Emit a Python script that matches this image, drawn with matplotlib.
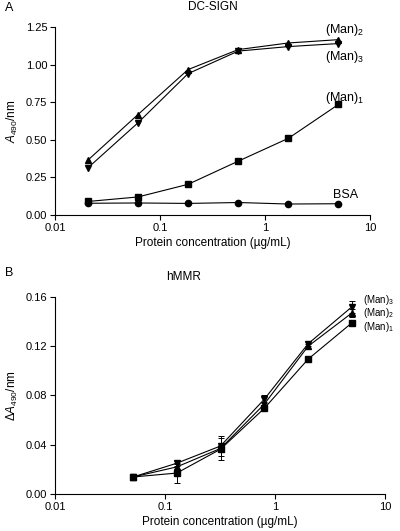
import matplotlib
matplotlib.use("Agg")
import matplotlib.pyplot as plt
from matplotlib.ticker import NullLocator

plt.rcParams['font.family'] = ['Liberation Sans', 'DejaVu Sans']
plt.rcParams['mathtext.fontset'] = 'custom'
plt.rcParams['mathtext.rm'] = 'Liberation Sans'
plt.rcParams['mathtext.it'] = 'Liberation Sans:italic'

# panel A: DC-SIGN
conc_a = [0.0206, 0.0617, 0.185, 0.556, 1.67, 5.0]
man1_a = [0.090, 0.120, 0.204, 0.358, 0.510, 0.735]
man2_a = [0.365, 0.668, 0.967, 1.100, 1.144, 1.166]
man3_a = [0.314, 0.613, 0.940, 1.090, 1.120, 1.140]
bsa_a = [0.078, 0.080, 0.077, 0.083, 0.073, 0.075]

# panel B: hMMR
conc_b = [0.0512, 0.128, 0.32, 0.8, 2.0, 5.0]
man1_b = [0.0138, 0.0170, 0.0364, 0.0696, 0.1095, 0.1390]
man2_b = [0.0138, 0.0220, 0.0370, 0.0730, 0.1200, 0.1470]
man3_b = [0.0138, 0.0250, 0.0390, 0.0770, 0.1220, 0.1520]
err1_b = [0.001, 0.008, 0.009, 0.001, 0.001, 0.002]
err2_b = [0.001, 0.002, 0.003, 0.002, 0.002, 0.003]
err3_b = [0.001, 0.002, 0.008, 0.003, 0.002, 0.005]

xt = [0.01, 0.1, 1, 10]
xtl = ['0.01', '0.1', '1', '10']

fig = plt.figure(figsize=(4.0, 5.31), dpi=100)


def style(ax):
    ax.set_xscale('log')
    ax.set_xlim(0.01, 10)
    ax.set_xticks(xt)
    ax.set_xticklabels(xtl)
    ax.xaxis.set_minor_locator(NullLocator())
    for s in ['top', 'right']:
        ax.spines[s].set_visible(False)
    for s in ['left', 'bottom']:
        ax.spines[s].set_linewidth(0.8)
    ax.tick_params(direction='out', length=3.5, width=0.8, labelsize=8, pad=2)
    ax.set_xlabel('Protein concentration (\u00b5g/mL)', fontsize=8.5, labelpad=3)


kw = dict(color='black', lw=0.8, ms=4.5)

axA = fig.add_axes([0.1375, 0.5951, 0.7875, 0.354])
axA.plot(conc_a, man2_a, marker='^', **kw)
axA.plot(conc_a, man3_a, marker='v', **kw)
axA.plot(conc_a, man1_a, marker='s', **kw)
axA.plot(conc_a, bsa_a, marker='o', **kw)
style(axA)
axA.set_ylim(0, 1.25)
axA.set_yticks([0, 0.25, 0.5, 0.75, 1.0, 1.25])
axA.set_yticklabels(['0.00', '0.25', '0.50', '0.75', '1.00', '1.25'])
axA.set_ylabel(r'$\mathit{A}_{490}$/nm', fontsize=8.5, labelpad=4)
axA.set_title('DC-SIGN', fontsize=8.5, pad=12)
tk = dict(transform=axA.transAxes, fontsize=9, va='center', ha='left')
axA.text(0.857, 0.984, r'(Man)$_2$', **tk)
axA.text(0.857, 0.84, r'(Man)$_3$', **tk)
axA.text(0.857, 0.622, r'(Man)$_1$', **tk)
axA.text(0.883, 0.106, 'BSA', **tk)
fig.text(0.012, 0.985, 'A', fontsize=9, va='center')

axB = fig.add_axes([0.1375, 0.0697, 0.825, 0.371])
ekw = dict(color='black', lw=0.8, ms=4.5, capsize=2.5, elinewidth=0.7, capthick=0.7)
axB.errorbar(conc_b, man1_b, yerr=err1_b, marker='s', **ekw)
axB.errorbar(conc_b, man2_b, yerr=err2_b, marker='^', **ekw)
axB.errorbar(conc_b, man3_b, yerr=err3_b, marker='v', **ekw)
style(axB)
axB.set_ylim(0, 0.16)
axB.set_yticks([0, 0.04, 0.08, 0.12, 0.16])
axB.set_yticklabels(['0.00', '0.04', '0.08', '0.12', '0.16'])
axB.set_ylabel(r'$\Delta\mathit{A}_{490}$/nm', fontsize=8.5, labelpad=4)
axB.set_title('hMMR', fontsize=8.5, pad=12, x=0.39)
tk = dict(transform=axB.transAxes, fontsize=7, va='center', ha='left')
axB.text(0.933, 0.985, r'(Man)$_3$', **tk)
axB.text(0.933, 0.917, r'(Man)$_2$', **tk)
axB.text(0.933, 0.849, r'(Man)$_1$', **tk)
fig.text(0.012, 0.485, 'B', fontsize=9, va='center')

fig.savefig('out.png', dpi=100)
